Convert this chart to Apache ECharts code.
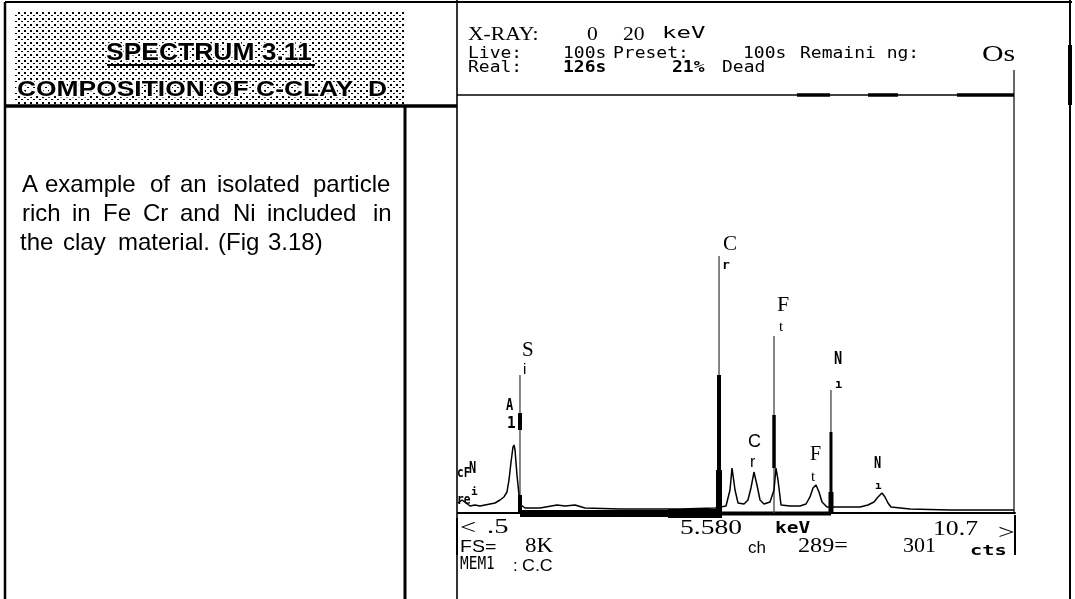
<!DOCTYPE html>
<html><head><meta charset="utf-8">
<script src="https://cdn.jsdelivr.net/npm/echarts@6/dist/echarts.min.js"></script>
<style>html,body{margin:0;padding:0;background:#fff}#c{width:1075px;height:599px}</style>
</head><body><div id="c"></div>
<script>
// ---------- DATA ----------
const energyKeV = [0.50,0.573,0.647,0.720,0.811,0.903,0.994,1.086,1.178,1.269,1.342,1.397,1.434,1.471,1.507,1.526,1.544,1.580,1.617,1.654,1.727,2.002,2.313,2.460,2.643,2.826,3.467,4.566,5.207,5.408,5.481,5.518,5.573,5.628,5.737,5.810,5.865,5.920,5.975,6.031,6.104,6.214,6.287,6.323,6.360,6.415,6.580,6.763,6.873,6.946,7.001,7.056,7.111,7.166,7.257,7.495,7.862,8.008,8.118,8.191,8.264,8.319,8.374,8.429,8.777,9.509,10.426,10.683];
const counts    = [192,250,192,135,154,135,154,173,192,250,308,404,635,981,1269,1308,1212,731,346,154,96,96,154,135,154,96,77,77,96,135,442,865,442,192,173,250,481,788,538,250,173,212,442,865,635,154,135,135,173,308,481,538,404,212,115,115,115,154,212,308,385,308,192,115,77,58,58,58];

const markerElements  = ['Si','Cr','Fe','Ni'];
const markerKeV       = [1.635, 5.28, 6.287, 7.33];
const markerTopCounts = [2654, 4942, 3404, 2365];

const markerBarKeV  = [1.635, 1.635, 5.28, 5.28, 6.287, 7.33, 7.33];
const markerBarFrom = [1596, 0, 0, 0, 865, 0, 0];
const markerBarTo   = [1923, 346, 2654, 827, 1885, 1558, 404];

const roiStartKeV = [1.635, 3.412, 4.346, 5.335];
const roiEndKeV   = [3.412, 4.346, 5.335, 7.331];

const xMinKeV = 0.5, xMaxKeV = 10.7, fullScale = 8000;
const axisLabelLeft = ['<', '.5'];
const axisLabelRight = ['10.7', '>'];
const cursorKeV = '5.580';

// ---------- STYLE ----------
const markerBarWidth = [4, 4, 4, 6, 3.5, 3, 5];
const roiThickness = [7, 7, 9, 4];

const SERIF = '"Liberation Serif", "DejaVu Serif", serif';
const SANS = '"Liberation Sans", Arial, sans-serif';
const MONO = '"DejaVu Sans Mono", "Liberation Mono", monospace';

function T(text, x, y, size, family, opt) {
  opt = opt || {};
  const st = {
    text: text,
    font: (opt.weight || 'normal') + ' ' + size + 'px ' + family,
    fill: opt.fill || '#000',
    align: 'left', textAlign: 'left',
    verticalAlign: 'middle', textVerticalAlign: 'middle'
  };
  if (opt.stroke) { st.stroke = opt.stroke; st.lineWidth = opt.lw || 3; st.strokeFirst = true; }
  return { type: 'text', x: x, y: y, scaleX: opt.sx || 1, silent: true, z: 100, style: st };
}
function L(x1, y1, x2, y2, w, c) {
  return { type: 'line', silent: true, z: 90, shape: { x1, y1, x2, y2 }, style: { stroke: c || '#000', lineWidth: w } };
}

// stipple pattern
const pc = document.createElement('canvas');
pc.width = 6; pc.height = 6;
const pctx = pc.getContext('2d');
pctx.fillStyle = '#fff'; pctx.fillRect(0, 0, 6, 6);
pctx.fillStyle = '#000';
pctx.fillRect(0, 0, 2, 2); pctx.fillRect(3, 3, 2, 1);

const graphics = [
  { type: 'rect', silent: true, z: 80, shape: { x: 15, y: 10, width: 390, height: 94 },
    style: { fill: { type: 'pattern', image: pc, repeat: 'repeat' } } },
  // frames
  L(5, 2, 1072, 2, 2),
  L(5, 2, 5, 599, 2.5),
  L(5, 106, 457, 106, 3.5),
  L(405, 106, 405, 599, 3),
  L(457, 0, 457, 599, 1.6),
  L(1070, 0, 1070, 599, 2),
  L(1070, 45, 1070, 105, 4),
  L(457, 95, 1014, 95, 1.6),
  L(797, 95, 830, 95, 3.5), L(868, 95, 898, 95, 3.5), L(957, 95, 1014, 95, 3.5),
  L(1014, 70, 1014, 513, 1.2),
  L(1015, 515, 1015, 555, 2),
  L(457, 518, 457, 555, 2),
  L(107, 65, 315, 65, 2),
  // header
  T('SPECTRUM 3.11', 106, 54, 23, SANS, { weight: 'bold', sx: 1.15, stroke: '#fff', lw: 3 }),
  T('COMPOSITION OF C-CLAY  D', 17, 90, 22, SANS, { weight: 'bold', sx: 1.2, stroke: '#fff', lw: 3 }),
  // description words (justified)
  T('A', 22, 185, 24, SANS), T('example', 45, 185, 24, SANS), T('of', 150, 185, 24, SANS),
  T('an', 180, 185, 24, SANS), T('isolated', 217, 185, 24, SANS), T('particle', 313, 185, 24, SANS),
  T('rich', 22, 214, 24, SANS), T('in', 72, 214, 24, SANS), T('Fe', 103, 214, 24, SANS),
  T('Cr', 143, 214, 24, SANS), T('and', 180, 214, 24, SANS), T('Ni', 233, 214, 24, SANS),
  T('included', 267, 214, 24, SANS), T('in', 373, 214, 24, SANS),
  T('the', 20, 243, 24, SANS), T('clay', 63, 243, 24, SANS), T('material.', 118, 243, 24, SANS),
  T('(Fig', 218, 243, 24, SANS), T('3.18)', 268, 243, 24, SANS),
  // info panel
  T('X-RAY:', 468, 35, 18, SERIF, { sx: 1.2 }),
  T('0', 587, 35, 18, SERIF, { sx: 1.2 }),
  T('20', 623, 35, 18, SERIF, { sx: 1.2 }),
  T('keV', 662, 34, 16, MONO, { sx: 1.5 }),
  T('Live:', 468, 54, 15, MONO, { sx: 1.2 }),
  T('100s', 563, 54, 15, MONO, { sx: 1.2 }),
  T('Preset:', 613, 54, 15, MONO, { sx: 1.2 }),
  T('100s', 743, 54, 15, MONO, { sx: 1.2 }),
  T('Remaini ng:', 800, 54, 15, MONO, { sx: 1.2 }),
  T('Os', 982, 55, 23, SERIF, { sx: 1.3 }),
  T('Real:', 468, 68, 15, MONO, { sx: 1.2 }),
  T('126s', 563, 68, 15, MONO, { sx: 1.2, weight: 'bold' }),
  T('21%', 672, 68, 15, MONO, { sx: 1.2, weight: 'bold' }),
  T('Dead', 722, 68, 15, MONO, { sx: 1.2 }),
  // marker labels
  T('C', 723, 244, 21, SERIF), T('r', 722, 266, 13, MONO, { weight: 'bold' }),
  T('F', 777, 305, 22, SERIF), T('t', 779, 327, 15, SERIF),
  T('S', 522, 350, 21, SERIF), T('i', 523, 370, 15, SANS),
  T('N', 834, 360, 17, MONO, { weight: 'bold', sx: 0.8 }), T('ı', 835, 385, 12, MONO, { weight: 'bold' }),
  T('A', 506, 406, 15, MONO, { weight: 'bold', sx: 0.8 }), T('1', 507, 424, 16, MONO, { weight: 'bold', sx: 0.9 }),
  T('C', 748, 442, 18, SANS), T('r', 750, 463, 16, SANS),
  T('F', 810, 455, 20, SERIF), T('t', 811, 477, 15, SERIF),
  T('N', 874, 464, 15, MONO, { weight: 'bold', sx: 0.8 }), T('ı', 875, 486, 11, MONO, { weight: 'bold' }),
  T('cF', 457, 473, 14, MONO, { weight: 'bold', sx: 0.8 }), T('N', 469, 469, 15, MONO, { weight: 'bold', sx: 0.8 }),
  T('re', 457, 500, 14, MONO, { weight: 'bold', sx: 0.8 }), T('i', 471, 492, 11, MONO, { weight: 'bold' }),
  // bottom
  T(axisLabelLeft[0], 460, 528, 22, SERIF, { sx: 1.3 }),
  T(axisLabelLeft[1], 487, 527, 22, SERIF, { sx: 1.3 }),
  T('FS=', 460, 547, 17, SANS, { sx: 1.15 }),
  T('8K', 525, 547, 20, SERIF, { sx: 1.15 }),
  T('MEM1', 460, 565, 17, MONO, { sx: 0.85 }),
  T(':', 513, 566, 17, SANS),
  T('C.C', 522, 566, 17, SANS, { sx: 1.05 }),
  T(cursorKeV, 680, 528, 22, SERIF, { sx: 1.25 }),
  T('keV', 775, 529, 15, MONO, { weight: 'bold', sx: 1.3 }),
  T('ch', 748, 548, 17, SANS),
  T('289=', 798, 546, 22, SERIF, { sx: 1.1 }),
  T(axisLabelRight[0], 933, 529, 22, SERIF, { sx: 1.17 }),
  T(axisLabelRight[1], 998, 533, 22, SERIF, { sx: 1.35 }),
  T('301', 903, 546, 22, SERIF),
  T('cts', 970, 551, 14, MONO, { weight: 'bold', sx: 1.45 })
];

const chart = echarts.init(document.getElementById('c'), null, { renderer: 'canvas' });
chart.setOption({
  animation: false,
  backgroundColor: '#fff',
  grid: { left: 458, right: 60, top: 97, bottom: 86 },
  xAxis: {
    type: 'value', min: xMinKeV, max: xMaxKeV,
    axisLine: { show: true, onZero: false, lineStyle: { color: '#000', width: 2 } },
    axisTick: { show: false }, axisLabel: { show: false }, splitLine: { show: false }
  },
  yAxis: {
    type: 'value', min: 0, max: fullScale,
    axisLine: { show: false }, axisTick: { show: false }, axisLabel: { show: false }, splitLine: { show: false }
  },
  graphic: graphics,
  series: [
    {
      type: 'custom', name: 'ROI', z: 3,
      data: roiStartKeV.map((s, i) => [s, roiEndKeV[i], i]),
      encode: { x: [0, 1] },
      renderItem: function (params, api) {
        const a = api.coord([api.value(0), 0]);
        const b = api.coord([api.value(1), 0]);
        const t = roiThickness[api.value(2)];
        return { type: 'rect', shape: { x: a[0], y: a[1] - t / 2 + 0.5, width: b[0] - a[0], height: t }, style: { fill: '#000' } };
      }
    },
    {
      type: 'custom', name: 'KLM markers', z: 4,
      data: markerKeV.map((k, i) => [k, 0, markerTopCounts[i]]),
      encode: { x: 0, y: [1, 2] },
      renderItem: function (params, api) {
        const a = api.coord([api.value(0), api.value(1)]);
        const b = api.coord([api.value(0), api.value(2)]);
        return { type: 'line', shape: { x1: a[0], y1: a[1], x2: b[0], y2: b[1] }, style: { stroke: '#444', lineWidth: 1.3 } };
      }
    },
    {
      type: 'custom', name: 'marker bars', z: 5,
      data: markerBarKeV.map((k, i) => [k, markerBarFrom[i], markerBarTo[i], i]),
      encode: { x: 0, y: [1, 2] },
      renderItem: function (params, api) {
        const a = api.coord([api.value(0), api.value(1)]);
        const b = api.coord([api.value(0), api.value(2)]);
        return { type: 'line', shape: { x1: a[0], y1: a[1], x2: b[0], y2: b[1] }, style: { stroke: '#000', lineWidth: markerBarWidth[api.value(3)] } };
      }
    },
    {
      type: 'line', name: 'spectrum', z: 6,
      data: energyKeV.map((e, i) => [e, counts[i]]),
      showSymbol: false, symbol: 'none',
      lineStyle: { color: '#000', width: 1.5 }
    }
  ]
});
</script>
</body></html>
